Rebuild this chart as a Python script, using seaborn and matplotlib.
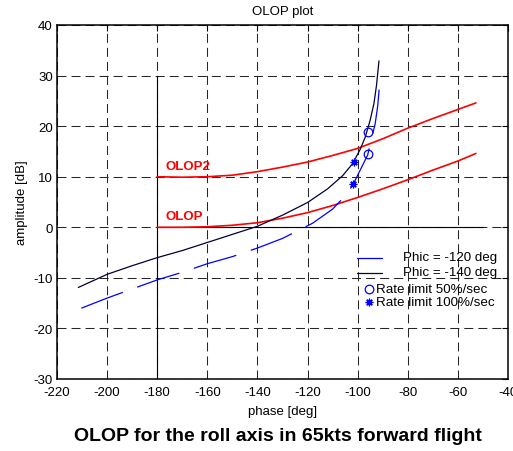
import matplotlib
matplotlib.use("Agg")
import matplotlib.pyplot as plt
from matplotlib.lines import Line2D
import numpy as np
import pandas as pd
import seaborn as sns

# Open-loop response, roll axis, Phic = -140 deg
phase_140 = [-211.5, -200, -190, -180, -170, -160, -150, -140, -130, -120,
             -112, -106, -102, -99, -97, -95, -93.5, -92.5, -91.5]
amp_140 = [-11.9, -9.3, -7.6, -6.0, -4.6, -3.0, -1.4, 0.2, 2.4, 4.9,
           7.6, 10.2, 12.6, 15.4, 17.8, 21.2, 24.5, 28.0, 32.9]

# Open-loop response, roll axis, Phic = -120 deg
phase_120 = [-210.3, -200, -190, -180, -170, -160, -150, -140, -130, -124,
             -118, -110, -105, -102, -99, -96, -94.5, -93, -92, -91.2]
amp_120 = [-16.0, -14.0, -12.2, -10.4, -8.9, -7.2, -5.8, -4.1, -2.2, -0.7,
           0.8, 3.6, 6.2, 8.3, 11.3, 14.3, 17.5, 20.5, 24.0, 28.6]

# OLOP boundaries
olop_phase = [-180, -170, -160, -150, -140, -130, -120, -110, -100, -90,
              -80, -70, -60, -52.8]
olop_amp = [0.0, 0.0, 0.1, 0.4, 0.9, 1.8, 2.9, 4.3, 5.9, 7.6,
            9.4, 11.3, 13.1, 14.6]
olop2_amp = [10.0, 9.9, 10.0, 10.3, 11.0, 11.9, 12.9, 14.2, 15.6, 17.5,
             19.6, 21.5, 23.3, 24.6]

# Rate-limit onset points
rl50_phase = [-95.7, -95.8]
rl50_amp = [18.9, 14.4]
rl100_phase = [-101.6, -101.7]
rl100_amp = [12.9, 8.5]

# Reference axes through (-180 deg, 0 dB)
ref_v_phase = [-180, -180]
ref_v_amp = [-30, 30]
ref_h_phase = [-180, -50]
ref_h_amp = [0, 0]

x_ticks = list(range(-220, -39, 20))
y_ticks = list(range(-30, 41, 10))

sns.set_style("white")
plt.rcParams["font.family"] = ["Liberation Sans", "DejaVu Sans"]
plt.rcParams["lines.scale_dashes"] = False
plt.rcParams["axes.unicode_minus"] = False
plt.rcParams["text.color"] = "black"
plt.rcParams["axes.labelcolor"] = "black"

fig = plt.figure(figsize=(5.13, 4.52), dpi=100)
ax = fig.add_axes([57 / 513, 1 - 380 / 452, 451 / 513, 354 / 452])

BLUE = "#0000ff"
NAVY = "#00003c"
RED = "#ff0000"

ax.grid(True, color="0.15", linestyle=(0, (6.5, 3.6)), linewidth=0.75)
ax.set_axisbelow(True)

ax.plot(ref_v_phase, ref_v_amp, color="black", lw=0.8)
ax.plot(ref_h_phase, ref_h_amp, color="black", lw=0.8)

df_olop = pd.DataFrame({"phase": olop_phase, "olop": olop_amp, "olop2": olop2_amp})
sns.lineplot(data=df_olop, x="phase", y="olop", color=RED, lw=1.2,
             sort=False, estimator=None, ax=ax)
sns.lineplot(data=df_olop, x="phase", y="olop2", color=RED, lw=1.2,
             sort=False, estimator=None, ax=ax)

df_120 = pd.DataFrame({"phase": phase_120, "amp": amp_120})
df_140 = pd.DataFrame({"phase": phase_140, "amp": amp_140})
sns.lineplot(data=df_120, x="phase", y="amp", color=BLUE, lw=0.9,
             linestyle=(0, (32, 11)), sort=False, estimator=None, ax=ax)
sns.lineplot(data=df_140, x="phase", y="amp", color=NAVY, lw=0.9,
             sort=False, estimator=None, ax=ax)

ax.plot(rl50_phase, rl50_amp, linestyle="none", marker="o", ms=6.2,
        mfc="none", mec=BLUE, mew=0.9)
ax.plot(rl100_phase, rl100_amp, linestyle="none", marker=(8, 2, 0), ms=5.5,
        mec=BLUE, mew=0.9)

ax.text(-176.8, 12.2, "OLOP2", color=RED, fontsize=9.5, weight="bold",
        ha="left", va="center")
ax.text(-176.8, 2.2, "OLOP", color=RED, fontsize=9.5, weight="bold",
        ha="left", va="center")

# legend entries
tr = ax.transAxes
ax.add_line(Line2D([0.665, 0.7206], [0.341, 0.341], color=BLUE, lw=0.9, transform=tr))
ax.add_line(Line2D([0.665, 0.7206], [0.299, 0.299], color=NAVY, lw=0.9, transform=tr))
ax.add_line(Line2D([0.692], [0.254], marker="o", ms=6.2, mfc="none", mec=BLUE,
                   mew=0.9, linestyle="none", transform=tr))
ax.add_line(Line2D([0.692], [0.218], marker=(8, 2, 0), ms=5.5, mec=BLUE,
                   mew=0.9, linestyle="none", transform=tr))
leg_fs = 9.6
ax.text(0.767, 0.345, "Phic = -120 deg", transform=tr, fontsize=leg_fs, va="center")
ax.text(0.767, 0.302, "Phic = -140 deg", transform=tr, fontsize=leg_fs, va="center")
ax.text(0.707, 0.254, "Rate limit 50%/sec", transform=tr, fontsize=leg_fs, va="center")
ax.text(0.707, 0.217, "Rate limit 100%/sec", transform=tr, fontsize=leg_fs, va="center")

ax.set_xlim(-220, -40)
ax.set_ylim(-30, 40)
ax.set_xticks(x_ticks)
ax.set_yticks(y_ticks)
ax.tick_params(direction="in", top=True, right=True, length=4, width=0.8,
               labelsize=9.5, pad=3, colors="black")
ax.tick_params(axis="x", pad=5)
for s in ax.spines.values():
    s.set_visible(True)
    s.set_color("black")
    s.set_linewidth(1.1)

ax.set_xlabel("phase [deg]", fontsize=9.5, labelpad=5)
ax.set_ylabel("amplitude [dB]", fontsize=9.5)
ax.yaxis.set_label_coords(-29 / 451, 0.5)
ax.set_title("OLOP plot", fontsize=9.5, pad=8)

fig.text(278 / 513, 1 - 436.5 / 452, "OLOP for the roll axis in 65kts forward flight",
         ha="center", va="center", fontsize=14, weight="bold")

fig.savefig("out.png", dpi=100)
